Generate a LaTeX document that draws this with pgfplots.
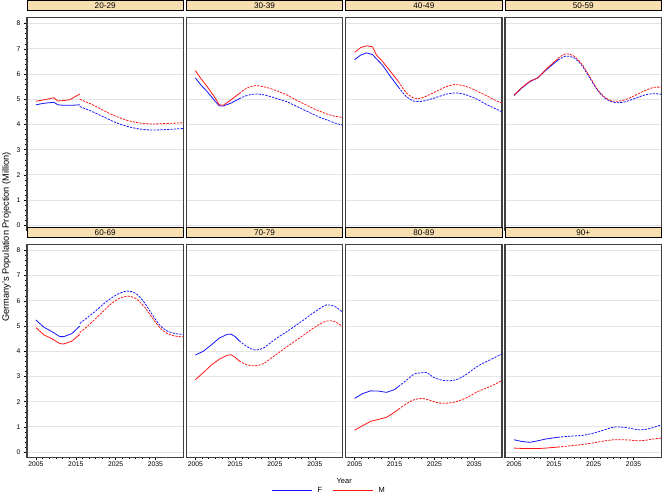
\documentclass[border=0pt]{standalone}
\usepackage{fontspec}
\setmainfont{Liberation Sans}
\usepackage{pgfplots}
\pgfplotsset{compat=1.18}
\usepgfplotslibrary{groupplots}
\definecolor{hdr}{RGB}{247,223,178}
\definecolor{frame}{RGB}{64,64,64}
\definecolor{gridc}{RGB}{228,228,228}
\definecolor{cF}{RGB}{20,20,255}
\definecolor{cM}{RGB}{255,20,20}
\begin{document}
\begin{tikzpicture}
\begin{groupplot}[
  group style={group size=4 by 2, horizontal sep=3bp, vertical sep=14bp,
    xticklabels at=edge bottom, yticklabels at=edge left},
  scale only axis, width=156.5bp, height=213bp,
  xmin=2002.75, xmax=2042, ymin=-0.2, ymax=8.24,
  xtick={2005,2015,2025,2035}, minor x tick num=5,
  ytick={0,...,8}, minor y tick num=4,
  tick align=outside, tick pos=left,
  major tick length=3bp, minor tick length=2bp,
  tick style={black, line width=0.5bp},
  ymajorgrids, major grid style={gridc, line width=0.9bp},
  axis line style={frame, line width=1.2bp},
  ticklabel style={font=\fontsize{6.8}{7}\selectfont},
  xticklabel style={yshift=2bp},
  /pgf/number format/assume math mode=true,
  /pgf/number format/1000 sep={},
  title style={at={(0.5,1)}, anchor=south, yshift=0.3bp, fill=hdr, draw=black,
    line width=0.8bp, minimum width=156.5bp, minimum height=10.5bp, inner sep=0pt,
    font=\fontsize{8.2}{9}\selectfont},
  hist/.style={line width=0.8bp, solid},
  proj/.style={line width=0.8bp, dash pattern=on 2.2bp off 1.2bp, smooth, tension=0.5},
  noxt/.style={xmajorticks=false, xminorticks=false},
  noyt/.style={ytick style={draw=none}},
]
% 20-29
\nextgroupplot[title={20-29}, noxt]
\addplot[cF, hist] coordinates {(2005,4.78) (2007,4.84) (2009.5,4.88) (2010.5,4.78) (2012,4.76) (2014,4.76) (2016,4.78)};
\addplot[cM, hist] coordinates {(2005,4.92) (2007,4.98) (2009.5,5.06) (2010.5,4.93) (2012,4.95) (2013.5,4.98) (2016,5.21)};
\addplot[cF, proj] coordinates {(2016,4.71) (2019,4.52) (2022,4.30) (2025,4.08) (2028,3.92) (2031,3.82) (2034,3.78) (2038,3.80) (2042,3.84)};
\addplot[cM, proj] coordinates {(2016,5.00) (2019,4.80) (2022,4.55) (2025,4.33) (2028,4.16) (2031,4.06) (2034,4.02) (2038,4.04) (2042,4.07)};
% 30-39
\nextgroupplot[title={30-39}, noxt, noyt]
\addplot[cF, hist] coordinates {(2005,5.85) (2006.5,5.55) (2008,5.30) (2010,4.92) (2011,4.74) (2012,4.73) (2014,4.85) (2016,5.02)};
\addplot[cM, hist] coordinates {(2005,6.14) (2006.5,5.80) (2008,5.50) (2010,5.05) (2011,4.78) (2012,4.76) (2014,4.98) (2016,5.22)};
\addplot[cF, proj] coordinates {(2016,5.02) (2018,5.15) (2020,5.21) (2022,5.18) (2024,5.10) (2026,5.00) (2028,4.90) (2030,4.75) (2032,4.60) (2034,4.45) (2036,4.30) (2038,4.18) (2040,4.06) (2042,3.97)};
\addplot[cM, proj] coordinates {(2016,5.22) (2018,5.45) (2020,5.54) (2022,5.50) (2024,5.42) (2026,5.30) (2028,5.17) (2030,5.00) (2032,4.84) (2034,4.68) (2036,4.54) (2038,4.42) (2040,4.33) (2042,4.28)};
% 40-49
\nextgroupplot[title={40-49}, noxt, noyt]
\addplot[cF, hist] coordinates {(2005,6.57) (2006.5,6.75) (2008,6.84) (2009.5,6.77) (2010.5,6.60) (2012,6.35) (2014,5.90) (2016,5.48)};
\addplot[cM, hist] coordinates {(2005,6.86) (2006.5,7.05) (2008,7.12) (2009.5,7.08) (2010.5,6.75) (2012,6.50) (2014,6.10) (2016,5.70)};
\addplot[cF, proj] coordinates {(2016,5.48) (2018,5.10) (2020,4.92) (2022,4.92) (2024,5.00) (2026,5.10) (2028,5.20) (2030,5.25) (2032,5.22) (2034,5.12) (2036,4.98) (2038,4.80) (2040,4.65) (2042,4.50)};
\addplot[cM, proj] coordinates {(2016,5.70) (2018,5.25) (2020,5.04) (2022,5.06) (2024,5.20) (2026,5.35) (2028,5.50) (2030,5.58) (2032,5.55) (2034,5.45) (2036,5.30) (2038,5.15) (2040,4.98) (2042,4.85)};
% 50-59
\nextgroupplot[title={50-59}, noxt, noyt]
\addplot[cF, hist] coordinates {(2005,5.15) (2007,5.45) (2009,5.70) (2011,5.85) (2013,6.15) (2015,6.42) (2016,6.55)};
\addplot[cM, hist] coordinates {(2005,5.16) (2007,5.47) (2009,5.72) (2011,5.85) (2013,6.18) (2015,6.47) (2016,6.60)};
\addplot[cF, proj] coordinates {(2016,6.55) (2018,6.71) (2020,6.65) (2022,6.35) (2024,5.85) (2026,5.35) (2028,5.02) (2030,4.88) (2032,4.87) (2034,4.95) (2036,5.07) (2038,5.18) (2040,5.22) (2042,5.20)};
\addplot[cM, proj] coordinates {(2016,6.62) (2018,6.80) (2020,6.72) (2022,6.40) (2024,5.90) (2026,5.38) (2028,5.05) (2030,4.92) (2032,4.94) (2034,5.05) (2036,5.20) (2038,5.35) (2040,5.47) (2042,5.48)};
% 60-69
\nextgroupplot[title={60-69}]
\addplot[cF, hist] coordinates {(2005,5.24) (2007,4.95) (2009,4.78) (2011,4.58) (2012,4.58) (2014,4.70) (2016,5.00)};
\addplot[cM, hist] coordinates {(2005,4.94) (2007,4.65) (2009,4.50) (2011,4.30) (2012,4.29) (2014,4.40) (2016,4.67)};
\addplot[cF, proj] coordinates {(2016,5.10) (2018,5.35) (2020,5.60) (2022,5.88) (2024,6.12) (2026,6.30) (2028,6.39) (2030,6.30) (2032,5.98) (2034,5.50) (2036,5.05) (2038,4.80) (2040,4.70) (2042,4.67)};
\addplot[cM, proj] coordinates {(2016,4.74) (2018,5.00) (2020,5.30) (2022,5.60) (2024,5.90) (2026,6.10) (2028,6.19) (2030,6.10) (2032,5.80) (2034,5.38) (2036,4.95) (2038,4.70) (2040,4.60) (2042,4.57)};
% 70-79
\nextgroupplot[title={70-79}, noyt]
\addplot[cF, hist] coordinates {(2005,3.85) (2007,4.00) (2009,4.25) (2011,4.52) (2013,4.67) (2014,4.68) (2015,4.58) (2016,4.42)};
\addplot[cM, hist] coordinates {(2005,2.87) (2007,3.15) (2009,3.45) (2011,3.68) (2013,3.84) (2014,3.86) (2015,3.76) (2016,3.62)};
\addplot[cF, proj] coordinates {(2016,4.42) (2018,4.18) (2020,4.05) (2022,4.12) (2024,4.35) (2026,4.58) (2028,4.78) (2030,5.00) (2032,5.22) (2034,5.45) (2036,5.67) (2038,5.84) (2040,5.78) (2042,5.55)};
\addplot[cM, proj] coordinates {(2016,3.62) (2018,3.46) (2020,3.42) (2022,3.50) (2024,3.72) (2026,3.95) (2028,4.18) (2030,4.40) (2032,4.62) (2034,4.85) (2036,5.05) (2038,5.20) (2040,5.18) (2042,4.97)};
% 80-89
\nextgroupplot[title={80-89}, noyt]
\addplot[cF, hist] coordinates {(2005,2.13) (2007,2.32) (2009,2.43) (2011,2.42) (2013,2.37) (2015,2.48) (2016,2.60)};
\addplot[cM, hist] coordinates {(2005,0.87) (2007,1.05) (2009,1.22) (2011,1.30) (2013,1.38) (2015,1.58) (2016,1.70)};
\addplot[cF, proj] coordinates {(2016,2.60) (2018,2.85) (2020,3.10) (2022,3.15) (2023,3.16) (2025,2.95) (2027,2.85) (2029,2.83) (2031,2.90) (2033,3.08) (2036,3.42) (2039,3.66) (2042,3.90)};
\addplot[cM, proj] coordinates {(2016,1.70) (2018,1.92) (2020,2.08) (2022,2.13) (2024,2.05) (2026,1.95) (2028,1.94) (2030,1.98) (2033,2.15) (2036,2.41) (2039,2.60) (2042,2.84)};
% 90+
\nextgroupplot[title={90+}, noyt]
\addplot[cF, hist] coordinates {(2005,0.49) (2007,0.42) (2009,0.39) (2011,0.45) (2013,0.52) (2016,0.59)};
\addplot[cM, hist] coordinates {(2005,0.16) (2008,0.14) (2011,0.14) (2013,0.16) (2016,0.20)};
\addplot[cF, proj] coordinates {(2016,0.59) (2019,0.63) (2022,0.66) (2024,0.72) (2026,0.80) (2028,0.90) (2030,0.99) (2032,0.99) (2034,0.95) (2036,0.89) (2038,0.90) (2040,0.98) (2042,1.08)};
\addplot[cM, proj] coordinates {(2016,0.20) (2019,0.25) (2022,0.30) (2025,0.37) (2028,0.45) (2030,0.49) (2032,0.49) (2034,0.48) (2036,0.45) (2038,0.47) (2040,0.52) (2042,0.56)};
\end{groupplot}
\node[rotate=90, inner sep=0pt, font=\fontsize{9.3}{10}\selectfont] at ([xshift=-20.5bp, yshift=-6.5bp]group c1r1.south west) {Germany's Population Projection (Million)};
\node[font=\fontsize{7.5}{9}\selectfont] at ([xshift=1.5bp, yshift=-24bp]group c2r2.south east) {Year};
% legend
\draw[cF, line width=0.8bp] ([xshift=-70.5bp, yshift=-33bp]group c2r2.south east) -- ++(40bp,0)
  node[right, text=black, inner sep=0pt, xshift=5bp, font=\fontsize{7.5}{9}\selectfont] {F};
\draw[cM, line width=0.8bp] ([xshift=-9.5bp, yshift=-33bp]group c2r2.south east) -- ++(40bp,0)
  node[right, text=black, inner sep=0pt, xshift=5bp, font=\fontsize{7.5}{9}\selectfont] {M};
\path ([xshift=-27bp, yshift=13bp]group c1r1.north west) rectangle ([yshift=-39bp]group c4r2.south east);
\end{tikzpicture}
\end{document}
